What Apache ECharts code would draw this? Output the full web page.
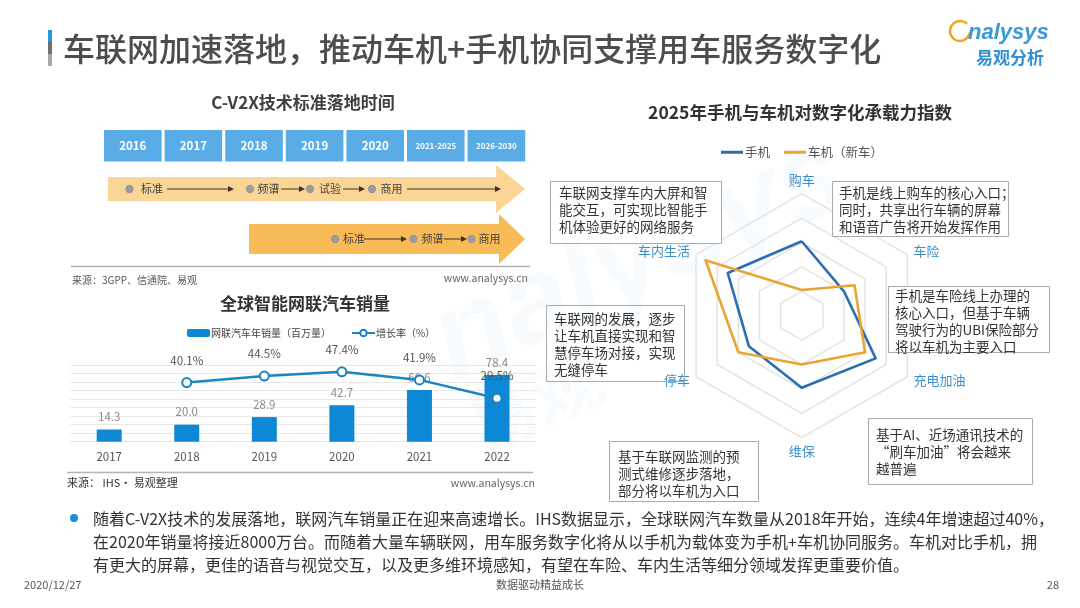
<!DOCTYPE html>
<html><head><meta charset="utf-8">
<script src="https://cdn.jsdelivr.net/npm/echarts@6/dist/echarts.min.js"></script>
<style>html,body{margin:0;padding:0;background:#fff}#c{width:1080px;height:608px}</style>
</head><body><div id="c"></div>
<script>
// ---------- data ----------
const years = ['2017', '2018', '2019', '2020', '2021', '2022'];
const sales = [14.3, 20.0, 28.9, 42.7, 60.6, 78.4];
const growth = [null, 40.1, 44.5, 47.4, 41.9, 29.5];
const salesAxisTicks = [0, 90, 10];
const radarAxes = ['购车', '车内生活', '停车', '维保', '充电加油', '车险'];
const phoneIndex = [61, 70, 50, 59, 70, 40];
const carIndex = [21, 91, 60, 40, 60, 50];
const timelineYears = ['2016', '2017', '2018', '2019', '2020', '2021-2025', '2026-2030'];
const stages1 = ['标准', '频谱', '试验', '商用'];
const stages2 = ['标准', '频谱', '商用'];
const boxTexts = {
  a: ['车联网支撑车内大屏和智', '能交互，可实现比智能手', '机体验更好的网络服务'],
  b: ['手机是线上购车的核心入口；', '同时，共享出行车辆的屏幕', '和语音广告将开始发挥作用'],
  c: ['手机是车险线上办理的', '核心入口，但基于车辆', '驾驶行为的UBI保险部分', '将以车机为主要入口'],
  d: ['车联网的发展，逐步', '让车机直接实现和智', '慧停车场对接，实现', '无缝停车'],
  e: ['基于AI、近场通讯技术的', '“刷车加油”将会越来', '越普遍'],
  f: ['基于车联网监测的预', '测式维修逐步落地，', '部分将以车机为入口']
};
const bodyLines = [
  '随着C-V2X技术的发展落地，联网汽车销量正在迎来高速增长。IHS数据显示，全球联网汽车数量从2018年开始，连续4年增速超过40%，',
  '在2020年销量将接近8000万台。而随着大量车辆联网，用车服务数字化将从以手机为载体变为手机+车机协同服务。车机对比手机，拥',
  '有更大的屏幕，更佳的语音与视觉交互，以及更多维环境感知，有望在车险、车内生活等细分领域发挥更重要价值。'
];

// ---------- helpers ----------
const FF = '"Noto Sans CJK SC", "Noto Sans", sans-serif';
function txt(text, x, y, size, color, opts) {
  opts = opts || {};
  const align = opts.align || 'left';
  const va = opts.va || 'middle';
  return {
    type: 'text', z: opts.z == null ? 10 : opts.z,
    style: {
      text: text, x: x, y: y, fill: color,
      font: (opts.weight || 'normal') + ' ' + size + 'px ' + (opts.family || FF),
      align: align, textAlign: align, verticalAlign: va, textVerticalAlign: va,
      lineHeight: opts.lh
    }
  };
}
const G = [];

// title
G.push({type: 'rect', shape: {x: 48, y: 30, width: 4, height: 36}, style: {fill: {type: 'linear', x: 0, y: 0, x2: 0, y2: 1, colorStops: [
  {offset: 0, color: '#1e9be0'}, {offset: 0.3, color: '#1e9be0'}, {offset: 0.31, color: '#6e6e6e'},
  {offset: 0.66, color: '#6e6e6e'}, {offset: 0.67, color: '#a9a9a9'}, {offset: 1, color: '#a9a9a9'}]}}});
G.push(txt('车联网加速落地，推动车机+手机协同支撑用车服务数字化', 63, 49, 32, '#4d4d4d', {weight: 500}));

// logo
G.push({type: 'arc', shape: {cx: 960, cy: 31, r: 10, startAngle: Math.PI * 0.05, endAngle: Math.PI * 1.75}, style: {stroke: '#f4a51c', lineWidth: 2.5, fill: null}});
G.push(txt('nalysys', 968, 33, 22, '#3a99d8', {weight: 'italic bold', family: '"Liberation Sans", Arial'}));
G.push(txt('易观分析', 1010, 58, 17, '#2f90d4', {weight: 'bold', align: 'center'}));

// watermark
G.push({type: 'text', z: 0, rotation: 0.42, x: 440, y: 350, style: {text: 'nalysys', fill: 'rgba(70,160,225,0.045)', font: 'italic bold 120px "Liberation Sans"', align: 'left', verticalAlign: 'middle'}});
G.push({type: 'text', z: 0, rotation: 0.42, x: 470, y: 430, style: {text: '易观', fill: 'rgba(70,160,225,0.04)', font: 'bold 70px ' + FF, align: 'left', verticalAlign: 'middle'}});

// C-V2X timeline
G.push(txt('C-V2X技术标准落地时间', 303, 103, 17, '#404040', {weight: 'bold', align: 'center'}));
timelineYears.forEach(function (y, i) {
  const x = 104 + i * 60.6;
  G.push({type: 'rect', shape: {x: x, y: 130, width: 57.6, height: 31.5}, style: {fill: '#5aace6'}});
  G.push(txt(y, x + 28.8, 146, i < 5 ? 11.5 : 8, '#ffffff', {weight: 'bold', align: 'center'}));
});
G.push({type: 'polygon', shape: {points: [[108, 177], [496, 177], [496, 165], [525, 189], [496, 213], [496, 201], [108, 201]]}, style: {fill: '#fbd596'}});
G.push({type: 'polygon', shape: {points: [[249, 224], [499, 224], [499, 214], [525, 239], [499, 264], [499, 254], [249, 254]]}, style: {fill: '#f9bb57'}});
function stageRow(names, dots, texts, arrows, y) {
  names.forEach(function (n, i) {
    G.push({type: 'circle', z: 10, shape: {cx: dots[i], cy: y, r: 4.2}, style: {fill: '#9b9b9b'}});
    G.push(txt(n, texts[i], y, 11, '#444'));
  });
  arrows.forEach(function (a) {
    G.push({type: 'line', z: 10, shape: {x1: a[0], y1: y, x2: a[1] - 5, y2: y}, style: {stroke: '#3d3325', lineWidth: 1}});
    G.push({type: 'polygon', z: 10, shape: {points: [[a[1] - 6, y - 3], [a[1], y], [a[1] - 6, y + 3]]}, style: {fill: '#3d3325'}});
  });
}
stageRow(stages1, [129.5, 250, 310, 372], [141, 257.5, 319, 380.5], [[167, 234], [281, 305], [343, 365], [407, 501]], 189);
stageRow(stages2, [335, 413.5, 471.5], [343, 421.5, 478.5], [[364, 407], [444, 467]], 239);
G.push({type: 'line', shape: {x1: 71, y1: 266.5, x2: 530, y2: 266.5}, style: {stroke: '#b5b5b5', lineWidth: 1.5}});
G.push(txt('来源：3GPP、信通院、易观', 72, 280, 10, '#555'));
G.push(txt('www.analysys.cn', 528, 278, 10.5, '#666', {align: 'right'}));

// bar chart texts
G.push(txt('全球智能网联汽车销量', 305, 304, 17, '#333', {weight: 'bold', align: 'center'}));
G.push({type: 'line', shape: {x1: 67, y1: 472.5, x2: 533, y2: 472.5}, style: {stroke: '#b5b5b5', lineWidth: 1.5}});
G.push(txt('来源： IHS· 易观整理', 67, 483, 11, '#333'));
G.push(txt('www.analysys.cn', 535, 483, 10.5, '#666', {align: 'right'}));

// radar texts
G.push(txt('2025年手机与车机对数字化承载力指数', 800, 112, 17.5, '#333', {weight: 'bold', align: 'center'}));
function box(key, x, y, w, h, tx, ty, fill) {
  G.push({type: 'rect', z: 5, shape: {x: x + 0.5, y: y + 0.5, width: w, height: h}, style: {fill: fill === undefined ? '#fff' : fill, stroke: '#aaaaaa', lineWidth: 1}});
  G.push(txt(boxTexts[key].join('\n'), tx, ty, 13.5, '#333', {va: 'top', lh: 17}));
}
box('a', 550, 181, 171, 62, 559, 184.5);
box('b', 832, 181, 176, 55, 839, 184.5);
box('c', 888, 286, 161, 66, 895, 287);
box('d', 546, 305, 138, 76, 554, 310.5, 'rgba(0,0,0,0)');
box('e', 868, 418, 164, 66, 876, 426.5);
box('f', 609, 441, 149, 60, 618, 448.5);

// body text
G.push({type: 'circle', shape: {cx: 74, cy: 518, r: 4}, style: {fill: '#1a8fd8'}});
bodyLines.forEach(function (l, i) {
  G.push(txt(l, 93, 518.5 + i * 23.3, 16, '#333'));
});
G.push(txt('2020/12/27', 24, 585, 11, '#555'));
G.push(txt('数据驱动精益成长', 540, 585, 11, '#555', {align: 'center'}));
G.push(txt('28', 1059, 585, 11, '#555', {align: 'right'}));

// ---------- chart ----------
const chart = echarts.init(document.getElementById('c'), null, {renderer: 'canvas'});
chart.setOption({
  backgroundColor: '#fff',
  animation: false,
  textStyle: {fontFamily: FF},
  graphic: {elements: G},
  legend: [{
    data: ['网联汽车年销量（百万量）', {name: '增长率（%）'}],
    left: 182, top: 323, itemWidth: 23, itemHeight: 8, itemGap: 20,
    textStyle: {fontSize: 10, color: '#444', padding: [0, 0, 0, -4]}
  }, {
    data: ['手机', '车机（新车）'],
    left: 716, top: 141, icon: 'rect', itemWidth: 22, itemHeight: 3, itemGap: 14,
    textStyle: {fontSize: 12.5, color: '#555', padding: [0, 0, 0, -3]}
  }],
  grid: [{left: 70.4, top: 365, width: 465.4, height: 76.7}],
  xAxis: [{
    type: 'category', data: years, gridIndex: 0,
    axisLine: {lineStyle: {color: '#e3e3e3'}}, axisTick: {show: false},
    axisLabel: {color: '#555', fontSize: 11.5, margin: 9}
  }],
  yAxis: [{
    type: 'value', min: salesAxisTicks[0], max: salesAxisTicks[1], interval: salesAxisTicks[2], gridIndex: 0,
    axisLabel: {show: false}, axisLine: {show: false}, axisTick: {show: false},
    splitLine: {lineStyle: {color: '#e8e8e8'}}
  }, {
    type: 'value', min: 0, max: 52, gridIndex: 0, show: false, splitLine: {show: false}
  }],
  radar: {
    center: [801.7, 315.7], radius: 122, startAngle: 90, splitNumber: 5, shape: 'polygon',
    indicator: radarAxes.map(function (n) { return {name: n, max: 100}; }),
    axisName: {color: '#3a8fcb', fontSize: 13},
    nameGap: 7,
    splitLine: {lineStyle: {color: '#e4e4e4', width: 1.5}},
    splitArea: {show: false},
    axisLine: {show: false},
    axisTick: {show: false}
  },
  series: [{
    name: '网联汽车年销量（百万量）', type: 'bar', data: sales, barWidth: 25, z: 1,
    itemStyle: {color: '#0c88d4'},
    label: {show: true, position: 'top', distance: 7, color: '#8a8a8a', fontSize: 11.5, formatter: function (p) { return p.value.toFixed(1); }}
  }, {
    name: '增长率（%）', type: 'line', yAxisIndex: 1, data: growth, z: 5,
    symbol: 'circle', symbolSize: 9,
    lineStyle: {color: '#1d83c3', width: 2.5},
    itemStyle: {color: '#fff', borderColor: '#1d83c3', borderWidth: 2},
    label: {show: true, position: 'top', distance: 11, color: '#555', fontSize: 11.5, formatter: '{c}%'}
  }, {
    type: 'radar', symbol: 'none',
    data: [
      {name: '手机', value: phoneIndex, lineStyle: {color: '#2c6db2', width: 2.6}, itemStyle: {color: '#2c6db2'}},
      {name: '车机（新车）', value: carIndex, lineStyle: {color: '#e9a432', width: 2.6}, itemStyle: {color: '#e9a432'}}
    ]
  }]
});
</script></body></html>
